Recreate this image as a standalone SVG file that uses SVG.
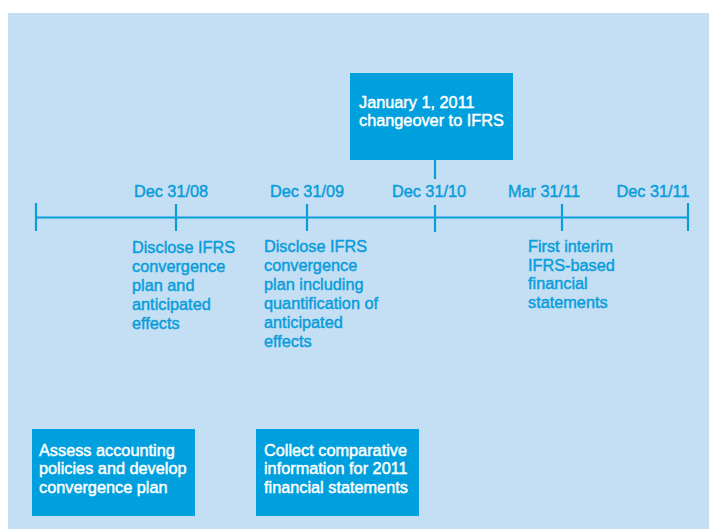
<svg xmlns="http://www.w3.org/2000/svg" width="709" height="529" viewBox="0 0 709 529">
  <style>
    .bg { fill: #c4dff3; }
    .box { fill: #009fde; }
    .axis { stroke: #0a9ddb; stroke-width: 2.2; fill: none; }
    .t { font-family: "Liberation Sans", Arial, sans-serif; font-size: 16.3px; stroke-width: 0.45px; }
    .blue { fill: #0a9ddb; stroke: #0a9ddb; }
    .white { fill: #ffffff; stroke: #ffffff; }
  </style>

  <!-- panel background -->
  <rect class="bg" x="8" y="13" width="701" height="516"/>

  <!-- timeline connectors -->
  <g id="connectors">
    <line class="axis" x1="36" y1="217.5" x2="688" y2="217.5"/>
    <line class="axis" x1="36" y1="203" x2="36" y2="231"/>
    <line class="axis" x1="176" y1="204" x2="176" y2="231"/>
    <line class="axis" x1="307" y1="204" x2="307" y2="231"/>
    <line class="axis" x1="435" y1="205" x2="435" y2="232"/>
    <line class="axis" x1="562" y1="204" x2="562" y2="231"/>
    <line class="axis" x1="688" y1="203" x2="688" y2="231"/>
    <line class="axis" x1="435" y1="160" x2="435" y2="179"/>
  </g>

  <!-- date labels -->
  <g id="dates">
    <text class="t blue" x="171" y="197" text-anchor="middle">Dec 31/08</text>
    <text class="t blue" x="307" y="197" text-anchor="middle">Dec 31/09</text>
    <text class="t blue" x="429" y="197" text-anchor="middle">Dec 31/10</text>
    <text class="t blue" x="544" y="197" text-anchor="middle">Mar 31/11</text>
    <text class="t blue" x="653" y="197" text-anchor="middle">Dec 31/11</text>
  </g>

  <!-- changeover box -->
  <g id="changeover">
    <rect class="box" x="350" y="73" width="163" height="87"/>
    <text class="t white" x="359" y="108">January 1, 2011</text>
    <text class="t white" x="359" y="126">changeover to IFRS</text>
  </g>

  <!-- milestone notes -->
  <g id="note-dec08">
    <text class="t blue" x="132" y="253">Disclose IFRS</text>
    <text class="t blue" x="132" y="272">convergence</text>
    <text class="t blue" x="132" y="291">plan and</text>
    <text class="t blue" x="132" y="310">anticipated</text>
    <text class="t blue" x="132" y="329">effects</text>
  </g>
  <g id="note-dec09">
    <text class="t blue" x="264" y="252">Disclose IFRS</text>
    <text class="t blue" x="264" y="271">convergence</text>
    <text class="t blue" x="264" y="290">plan including</text>
    <text class="t blue" x="264" y="309">quantification of</text>
    <text class="t blue" x="264" y="328">anticipated</text>
    <text class="t blue" x="264" y="347">effects</text>
  </g>
  <g id="note-mar11">
    <text class="t blue" x="528" y="252">First interim</text>
    <text class="t blue" x="528" y="271">IFRS-based</text>
    <text class="t blue" x="528" y="289">financial</text>
    <text class="t blue" x="528" y="308">statements</text>
  </g>

  <!-- activity boxes -->
  <g id="assess">
    <rect class="box" x="32" y="429" width="163" height="87"/>
    <text class="t white" x="39" y="456">Assess accounting</text>
    <text class="t white" x="39" y="474">policies and develop</text>
    <text class="t white" x="39" y="493">convergence plan</text>
  </g>
  <g id="collect">
    <rect class="box" x="256" y="429" width="163" height="87"/>
    <text class="t white" x="264" y="456">Collect comparative</text>
    <text class="t white" x="264" y="474">information for 2011</text>
    <text class="t white" x="264" y="493">financial statements</text>
  </g>
</svg>
